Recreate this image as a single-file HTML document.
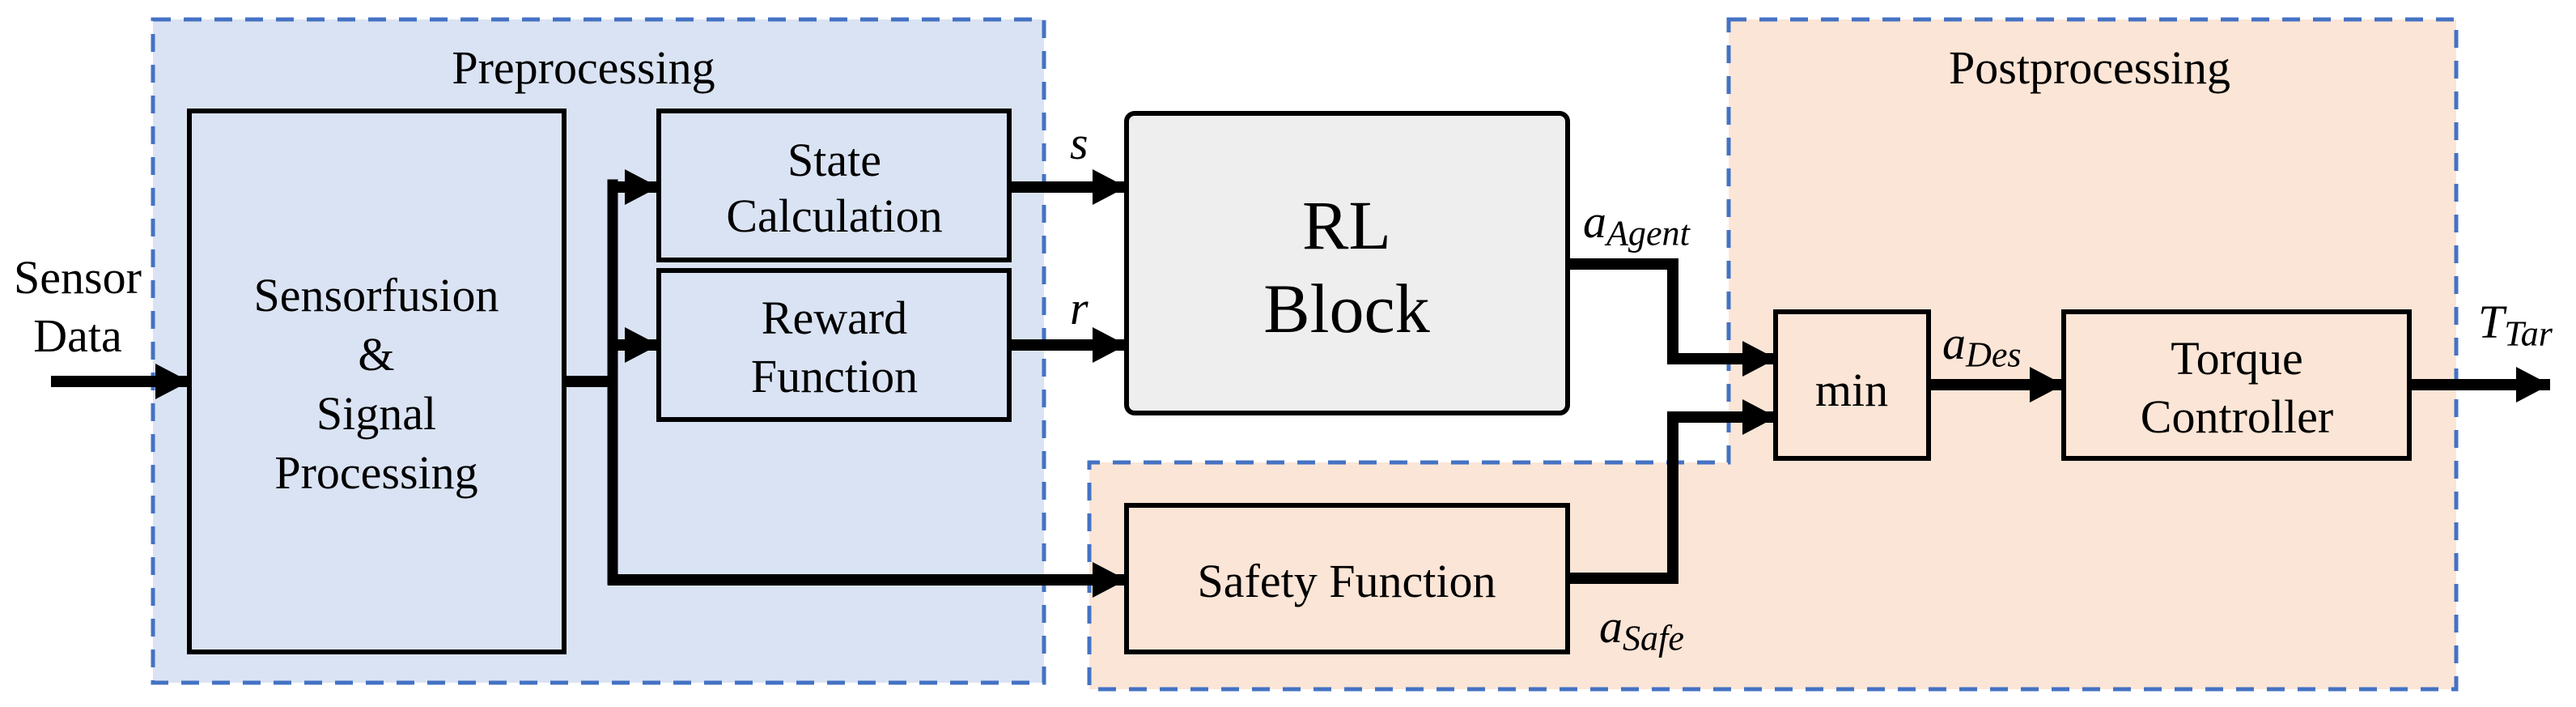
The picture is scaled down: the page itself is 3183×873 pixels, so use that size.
<!DOCTYPE html>
<html><head><meta charset="utf-8"><style>
html,body{margin:0;padding:0;background:#fff;}
#w{position:relative;width:3183px;height:873px;overflow:hidden;}
svg{position:absolute;left:0;top:0;display:block;}
.t{position:absolute;font-family:"Liberation Serif","Times New Roman",serif;color:#000;white-space:nowrap;transform:translate(-50%,-50%);text-align:center;line-height:1;font-size:58px;}
.m{font-style:italic;transform:none;}
.m sub{font-size:0.76em;vertical-align:-0.22em;}
</style></head><body>
<div id="w">
<svg width="3183" height="873" viewBox="0 0 3183 873" xmlns="http://www.w3.org/2000/svg">
<defs>
<marker id="ah" markerUnits="userSpaceOnUse" markerWidth="44" markerHeight="46" refX="42" refY="22" orient="auto">
<path d="M0,0 L42,22 L0,44 Z" fill="#000"/>
</marker>
</defs>
<rect x="189" y="24" width="1101" height="819" fill="#DAE3F3" stroke="#4472C4" stroke-width="5" stroke-dasharray="22,16"/>
<path d="M2136,24 L3035,24 L3035,851 L1346,851 L1346,571 L2136,571 Z" fill="#FBE5D6" stroke="#4472C4" stroke-width="5" stroke-dasharray="22,16"/>
<line x1="63" y1="471" x2="234" y2="471" stroke="#000" stroke-width="14" marker-end="url(#ah)"/>
<rect x="234" y="137" width="463" height="668" fill="none" stroke="#000" stroke-width="6"/>
<rect x="814" y="137" width="433" height="184" fill="none" stroke="#000" stroke-width="6"/>
<rect x="814" y="334" width="433" height="184" fill="none" stroke="#000" stroke-width="6"/>
<path d="M697,471 L757,471" stroke="#000" stroke-width="14" fill="none"/>
<path d="M757,716 L757,228" stroke="#000" stroke-width="13" fill="none" stroke-linecap="square"/>
<line x1="751" y1="231" x2="814" y2="231" stroke="#000" stroke-width="14" marker-end="url(#ah)"/>
<line x1="751" y1="426" x2="814" y2="426" stroke="#000" stroke-width="14" marker-end="url(#ah)"/>
<line x1="751" y1="716" x2="1392" y2="716" stroke="#000" stroke-width="14" marker-end="url(#ah)"/>
<line x1="1247" y1="231" x2="1392" y2="231" stroke="#000" stroke-width="14" marker-end="url(#ah)"/>
<line x1="1247" y1="426" x2="1392" y2="426" stroke="#000" stroke-width="14" marker-end="url(#ah)"/>
<rect x="1392" y="140" width="545" height="370" rx="10" fill="#EDEEED" stroke="#000" stroke-width="6"/>
<rect x="1392" y="624" width="545" height="181" fill="none" stroke="#000" stroke-width="6"/>
<path d="M1937,326 L2067,326 L2067,443 L2150,443" stroke="#000" stroke-width="14" fill="none"/>
<line x1="2140" y1="443" x2="2195" y2="443" stroke="#000" stroke-width="14" marker-end="url(#ah)"/>
<path d="M1937,714 L2067,714 L2067,515 L2150,515" stroke="#000" stroke-width="14" fill="none"/>
<line x1="2140" y1="515" x2="2195" y2="515" stroke="#000" stroke-width="14" marker-end="url(#ah)"/>
<rect x="2194" y="385" width="189" height="181" fill="none" stroke="#000" stroke-width="6"/>
<line x1="2383" y1="475" x2="2550" y2="475" stroke="#000" stroke-width="14" marker-end="url(#ah)"/>
<rect x="2550" y="385" width="427" height="181" fill="none" stroke="#000" stroke-width="6"/>
<line x1="2977" y1="475" x2="3151" y2="475" stroke="#000" stroke-width="14" marker-end="url(#ah)"/>
</svg>

<div class="t" style="left:721px;top:84px;">Preprocessing</div>
<div class="t" style="left:2582px;top:84px;">Postprocessing</div>
<div class="t" style="left:96px;top:379px;line-height:72px;">Sensor<br>Data</div>
<div class="t" style="left:465px;top:474px;line-height:73px;">Sensorfusion<br>&amp;<br>Signal<br>Processing</div>
<div class="t" style="left:1031px;top:232px;line-height:69px;">State<br>Calculation</div>
<div class="t" style="left:1031px;top:429px;line-height:72px;">Reward<br>Function</div>
<div class="t" style="left:1664px;top:330px;font-size:86px;line-height:103px;">RL<br>Block</div>
<div class="t" style="left:1664px;top:718px;">Safety Function</div>
<div class="t" style="left:2288px;top:482px;">min</div>
<div class="t" style="left:2764px;top:479px;line-height:72px;">Torque<br>Controller</div>
<div class="t m" style="left:1322px;top:148px;">s</div>
<div class="t m" style="left:1322px;top:352px;">r</div>
<div class="t m" style="left:1956px;top:245px;">a<sub>Agent</sub></div>
<div class="t m" style="left:1976px;top:745px;">a<sub>Safe</sub></div>
<div class="t m" style="left:2400px;top:395px;">a<sub>Des</sub></div>
<div class="t m" style="left:3062px;top:369px;">T<sub>Tar</sub></div>
</div>
</body></html>
